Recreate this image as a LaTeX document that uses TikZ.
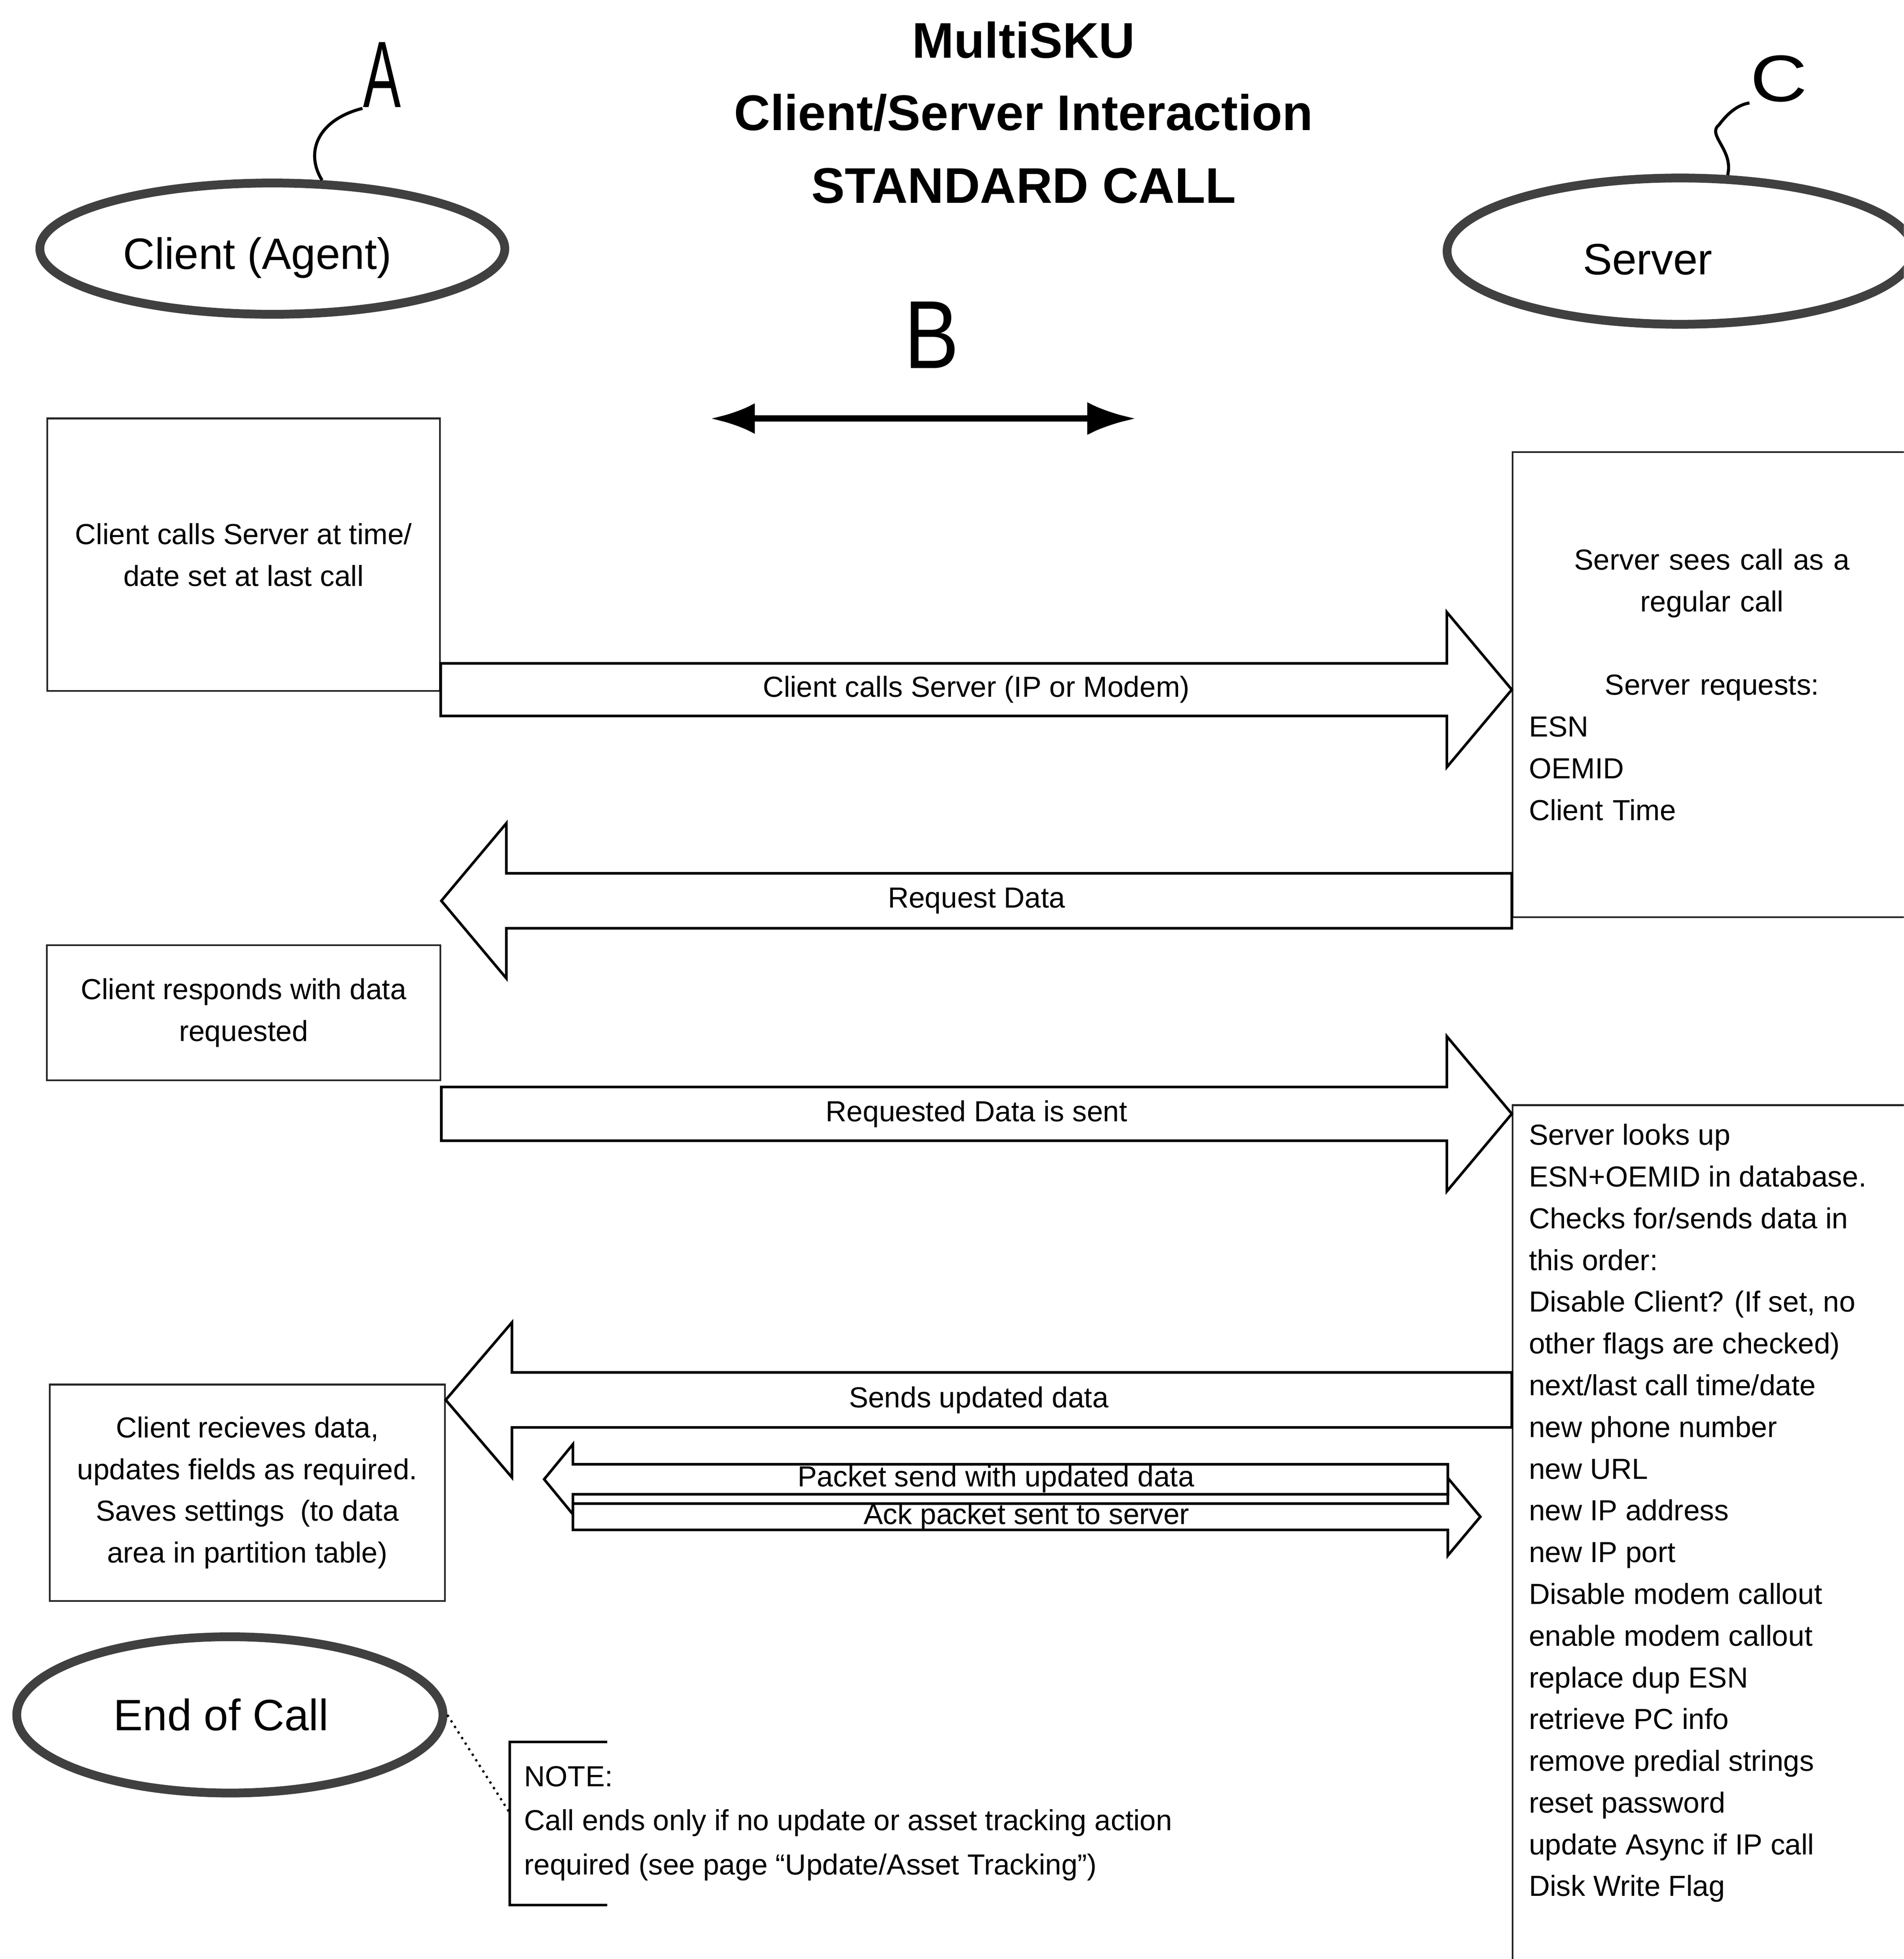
\documentclass[tikz,border=0pt]{standalone}
\usepackage{fontspec}
\setmainfont{Liberation Sans}
\usetikzlibrary{arrows.meta,calc,positioning,shapes.geometric}

% block arrow: tail, tip, half body, head offset, half head, label
\newcommand{\blockarrow}[6]{%
  \draw[barrow] ($(#1)+(0,-#3)$) -- ($(#2)+(#4,-#3)$) -- ($(#2)+(#4,-#5)$) -- (#2)
    -- ($(#2)+(#4,#5)$) -- ($(#2)+(#4,#3)$) -- ($(#1)+(0,#3)$) -- cycle;
  \path (#1) -- (#2) node[lbl, midway] {#6};}

\begin{document}
\begin{tikzpicture}[
    x=0.01cm, y=-0.01cm,
    font=\fontsize{6.6}{9.5}\selectfont,
    stepbox/.style={
		rectangle,
		draw=black!85,
		line width=0.4pt,
		align=center,
		inner sep=0pt
	},
    oval/.style={
		ellipse,
		draw=black!75,
		line width=2pt,
		inner sep=0pt,
		font=\fontsize{10}{12}\selectfont
	},
    barrow/.style={draw=black, line width=0.6pt},
    lbl/.style={inner sep=0pt},
    handletter/.style={inner sep=0pt, font=\fontsize{21.5}{22}\selectfont},
    leader/.style={draw=black, line width=0.7pt},
    dblarrow/.style={arrows={Latex[length=10pt,width=7pt]-Latex[length=11pt,width=7.5pt]}, line width=1.4pt},
    notetext/.style={align=left, inner xsep=0.11cm, inner ysep=0pt, font=\fontsize{6.6}{10}\selectfont},
    bracket/.style={draw=black, line width=0.6pt}
  ]
  \useasboundingbox (0,0) rectangle (1524,1568);
  \clip (0,0) rectangle (1524,1568);

  % title and actors
  \node [font=\bfseries\fontsize{11.4}{16.5}\selectfont, align=center] (title) at (819.5,90)
  {MultiSKU\\Client/Server Interaction\\STANDARD CALL};

  \node [oval, minimum width=3.72cm, minimum height=1.05cm] (client) at (218,199)
  {Client (Agent)\hspace{0.24cm}\rule{0pt}{0.4cm}};
  \node [oval, minimum width=3.73cm, minimum height=1.17cm] (server) at (1345,201)
  {Server\hspace{0.52cm}\rule{0pt}{0.38cm}};
  \node [oval, minimum width=3.41cm, minimum height=1.25cm] (endcall) at (184,1372.6)
  {End of Call\hspace{0.14cm}\rule{0pt}{0.1cm}};

  \node [handletter] (lblA) at (306,60) {\scalebox{0.6}[1]{A}};
  \node [handletter, font=\fontsize{22}{22}\selectfont] (lblB) at (746,268) {\scalebox{0.85}[1]{B}};
  \node [handletter, font=\fontsize{15}{15}\selectfont] (lblC) at (1424,63) {\scalebox{1.2}[1]{C}};

  \draw [leader] (client.54) .. controls (244,122) and (254,96) .. (lblA.south west);
  \draw [leader] (server.58) .. controls (1388,120) and (1366,108) .. (1376,100)
    .. controls (1382,92) and (1390,84) .. (lblC.south west);

  \coordinate (bl) at (569,335);
  \coordinate (br) at (909,335);
  \draw [dblarrow] (bl) -- (br);

  % client side
  \node [stepbox, minimum width=3.14cm, minimum height=2.18cm] (cbox1) at (195,444)
  {Client calls Server at time/\\date set at last call};
  \node [stepbox, minimum width=3.15cm, minimum height=1.08cm, below=2.02cm of cbox1] (cbox2)
  {Client responds with data\\requested};
  \node [stepbox, minimum width=3.16cm, minimum height=1.73cm, below=2.42cm of cbox2, xshift=0.03cm] (cbox3)
  {Client recieves data,\\updates fields as required.\\Saves settings~ (to data\\area in partition table)};

  % server side
  \node [stepbox, minimum width=3.19cm, minimum height=3.72cm, text width=2.93cm, align=left] (srv1) at (1370.5,548)
  {{\centering Server sees call as a\\regular call\\[\baselineskip]Server requests:\par}ESN\\OEMID\\Client Time};
  \node [stepbox, inner xsep=0.13cm, inner ysep=0.15cm, below=1.49cm of srv1] (srv2)
  {\parbox[t][6.9cm][t]{2.93cm}{\raggedright
   Server looks up\\
   ESN+OEMID in database.\\
   Checks for/sends data in\\
   this order:\\
   Disable Client? (If set, no\\
   other flags are checked)\\
   next/last call time/date\\
   new phone number\\
   new URL\\
   new IP address\\
   new IP port\\
   Disable modem callout\\
   enable modem callout\\
   replace dup ESN\\
   retrieve PC info\\
   remove predial strings\\
   reset password\\
   update Async if IP call\\
   Disk Write Flag}};

  % messages
  \coordinate (a1s) at (cbox1.east |- 0,552);
  \coordinate (a1t) at (srv1.west |- 0,552);
  \coordinate (a2s) at (srv1.west |- 0,721);
  \coordinate (a2t) at (cbox2.east |- 0,721);
  \coordinate (a3s) at (cbox2.east |- 0,891.5);
  \coordinate (a3t) at (srv2.west |- 0,891.5);
  \coordinate (a4s) at (srv2.west |- 0,1120.5);
  \coordinate (a4t) at (cbox3.east |- 0,1120.5);
  \coordinate (pk1) at (1159,1184);
  \coordinate (pk2) at (435.6,1184);
  \coordinate (ak1) at (458.6,1214);
  \coordinate (ak2) at (1185,1214);

  \blockarrow{a1s}{a1t}{21}{-52}{62}{Client calls Server (IP or Modem)}
  \blockarrow{a2s}{a2t}{22}{52}{62}{Request Data}
  \blockarrow{a3s}{a3t}{21.5}{-52}{62}{Requested Data is sent}
  \blockarrow{a4s}{a4t}{22}{53}{62}{Sends updated data}
  \blockarrow{pk1}{pk2}{12}{23}{28}{Packet send with updated data}
  \blockarrow{ak1}{ak2}{10.5}{-26}{31}{Ack packet sent to server}

  % note
  \node [notetext, anchor=west, minimum height=1.29cm] (note) at (408,1459.5)
  {NOTE:\\Call ends only if no update or asset tracking action\\required (see page “Update/Asset Tracking”)};
  \draw [bracket] ($(note.north west)+(78,0)$) -- (note.north west) -- (note.south west) -- ++(78,0);
  \draw [densely dotted, line width=0.5pt] (endcall.east) -- ([yshift=0.085cm]note.west);

\end{tikzpicture}
\end{document}
